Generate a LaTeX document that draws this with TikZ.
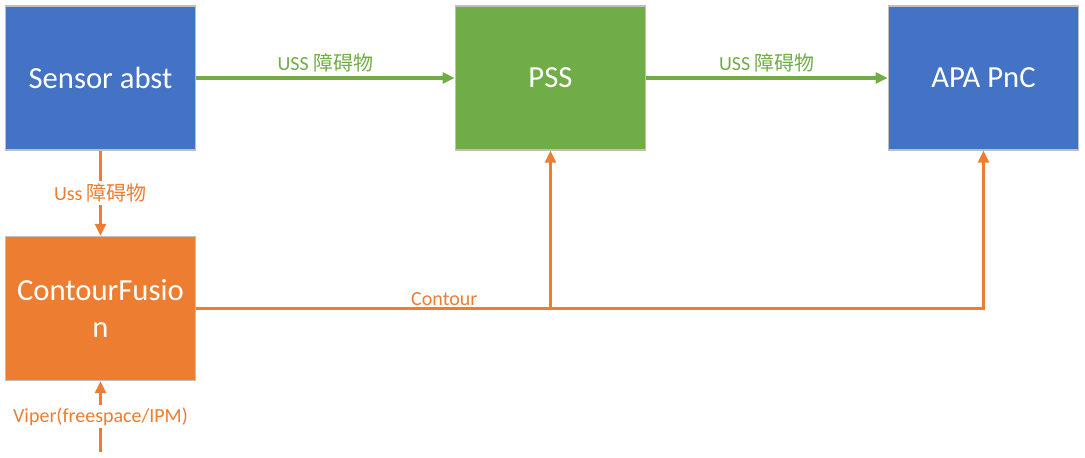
\documentclass[tikz,border=0pt]{standalone}
\usepackage{fontspec}
\setmainfont{Carlito}
\newfontfamily\cjk{Noto Sans CJK SC}
\usetikzlibrary{arrows.meta}
\definecolor{boxblue}{HTML}{4472C4}
\definecolor{boxgreen}{HTML}{70AD47}
\definecolor{boxorange}{HTML}{ED7D31}
\definecolor{boxedge}{HTML}{BFBFBF}
\begin{document}
\begin{tikzpicture}[x=0.75pt,y=-0.75pt,
    blockbox/.style={draw=boxedge,line width=0.8pt,text=white,align=center,
      minimum width=143pt,minimum height=108pt,inner sep=0pt,font=\fontsize{23}{28}\selectfont},
    greenline/.style={draw=boxgreen,line width=2.6pt,-{Triangle[length=9pt,width=8pt]}},
    orangeline/.style={draw=boxorange,line width=2.6pt,-{Triangle[length=9pt,width=8pt]}},
    lbl/.style={font=\fontsize{15}{17}\selectfont,inner sep=2pt}]
  \useasboundingbox (0,0) rectangle (1085,457);
  \draw
    (100.5,78) node[blockbox,fill=boxblue] (sensor){Sensor abst}
    (550.5,78) node[blockbox,fill=boxgreen] (pss){PSS}
    (983.5,78) node[blockbox,fill=boxblue] (apa){APA PnC}
    (100.5,308.5) node[blockbox,fill=boxorange] (cf){ContourFusio\\n};
  \coordinate (viper) at (100.5,452);
  \begin{scope}[greenline]
    \draw (sensor) to node[lbl,above=1pt,text=boxgreen]{USS {\cjk 障碍物}} (pss);
    \draw (pss) to node[lbl,above=1pt,text=boxgreen]{USS {\cjk 障碍物}} (apa);
  \end{scope}
  \begin{scope}[orangeline]
    \draw (sensor) to node[lbl,fill=white,text=boxorange]{Uss {\cjk 障碍物}} (cf);
    \draw (viper) to node[lbl,fill=white,text=boxorange]{Viper(freespace/IPM)} (cf);
    \draw (cf.east) -| node[lbl,pos=0.35,above,inner sep=1pt,text=boxorange]{Contour} (pss.south);
    \draw (cf.east) -| (apa.south);
  \end{scope}
\end{tikzpicture}
\end{document}
